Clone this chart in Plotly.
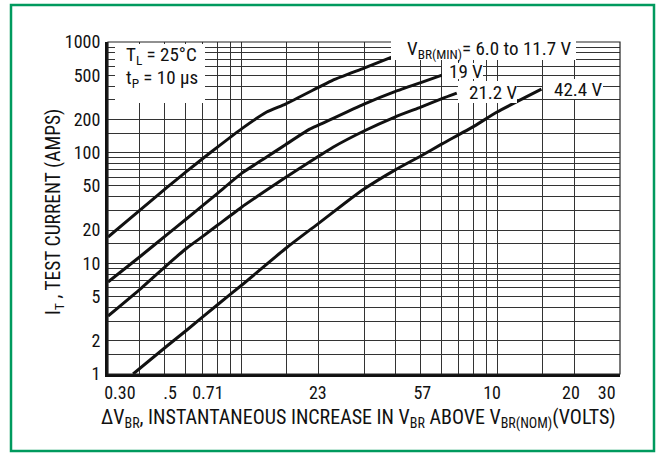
import numpy as np
import plotly.graph_objects as go

# ---- data ----
v_a = [0.3, 0.4, 0.51, 0.61, 0.71, 0.81, 1.0, 1.25, 1.48, 2.0, 2.27, 3.0, 3.85]
i_a = [17.3, 30.3, 48.5, 68, 90, 114, 165, 233, 275, 391, 453, 581, 730]

v_b = [0.3, 0.404, 0.51, 0.61, 0.71, 0.81, 1.0, 1.25, 1.48, 1.84, 2.0, 3.0, 3.96, 5.0, 6.05]
i_b = [6.78, 11.7, 18.2, 25.4, 33.9, 43.6, 65.3, 91.3, 118, 163, 178, 275, 356, 430, 502]

v_c = [0.3, 0.404, 0.51, 0.61, 0.71, 0.81, 1.0, 1.25, 1.48, 2.0, 2.27, 3.0, 3.96, 5.0, 6.05, 6.91]
i_c = [3.34, 5.95, 9.65, 13.75, 17.8, 22.4, 32.3, 45.9, 59.6, 93.2, 112, 157, 210, 258, 308, 345]

v_d = [0.376, 0.51, 0.61, 0.81, 1.0, 1.49, 2.0, 2.53, 3.0, 3.96, 5.0, 6.05, 7.96, 9.93, 14.8]
i_d = [1.0, 1.79, 2.5, 4.29, 6.37, 13.75, 23.1, 35.1, 46.9, 69.6, 93.2, 120, 170, 233, 375]

series_labels = ["V<sub>BR(MIN)</sub>= 6.0 to 11.7 V", "19 V", "21.2 V", "42.4 V"]

x_tick_vals = [0.334, 0.524, 0.737, 1.98, 5.07, 9.49, 19.3, 26.6]
x_tick_text = ["0.30", ".5", "0.71", "23", "57", "10", "20", "30"]
y_tick_vals = [1, 2, 5, 10, 20, 50, 100, 200, 500, 1000]
y_tick_text = ["1", "2", "5", "10", "20", "50", "100", "200", "500", "1000"]

x_grid = [0.4, 0.5, 0.6, 0.7, 0.8, 0.9, 1, 1.5, 2, 3, 4, 5, 6, 7, 8, 9, 10, 15, 20]
y_grid = [1.5, 2, 3, 4, 5, 6, 7, 8, 9, 10, 15, 20, 30, 40, 50, 60, 70, 80, 90,
          100, 150, 200, 300, 400, 500, 600, 700, 800, 900]

x_title = "ΔV<sub>BR</sub>, INSTANTANEOUS INCREASE IN V<sub>BR</sub> ABOVE V<sub>BR(NOM)</sub>(VOLTS)"
y_title = "I<sub>T</sub> , TEST CURRENT (AMPS)"
cond_lines = ["T<sub>L</sub> = 25°C", "t<sub>P</sub> = 10 µs"]

FONT = "Liberation Sans Narrow, Arial Narrow, Roboto Condensed, Roboto, sans-serif"

# ---- geometry helpers (pixel -> paper) ----
L, R, T, B = 108, 42, 42, 80
W, H = 662, 454
PW, PH = W - L - R, H - T - B


def px(x):
    return (x - L) / PW


def py(y):
    return (H - B - y) / PH


fig = go.Figure()
for v, i in [(v_a, i_a), (v_b, i_b), (v_c, i_c), (v_d, i_d)]:
    fig.add_trace(go.Scatter(x=v, y=i, mode="lines",
                             line=dict(color="#111", width=3, shape="spline", smoothing=0.45),
                             hoverinfo="skip", showlegend=False))

shapes = []
# green outer border
shapes.append(dict(type="rect", xref="paper", yref="paper",
                   x0=px(11), x1=px(654), y0=py(451), y1=py(5),
                   line=dict(color="#009a5e", width=2.5), layer="above"))
# plot frame (thin top/right)
shapes.append(dict(type="rect", xref="paper", yref="paper", x0=0, x1=1, y0=0, y1=1,
                   line=dict(color="#222", width=1.2), layer="above"))
# white label boxes
boxes = [(115, 205, 44, 103), (391, 576, 37, 60), (442, 483, 63, 79),
         (458, 517, 81, 103), (543, 603, 79, 99)]
for x0, x1, y0, y1 in boxes:
    shapes.append(dict(type="rect", xref="paper", yref="paper",
                       x0=px(x0), x1=px(x1), y0=py(y1), y1=py(y0),
                       fillcolor="white", line=dict(width=0), layer="above"))

annotations = []
label_pos = [(489, 49), (466, 71), (493, 92), (578, 89)]
for txt, (x, y) in zip(series_labels, label_pos):
    annotations.append(dict(text=txt, x=px(x), y=py(y), xref="paper", yref="paper",
                            showarrow=False, xanchor="center", yanchor="middle",
                            font=dict(family=FONT, size=19, color="#111")))
for txt, y in zip(cond_lines, [56, 78]):
    annotations.append(dict(text=txt, x=px(124), y=py(y), xref="paper", yref="paper",
                            showarrow=False, xanchor="left", yanchor="middle",
                            font=dict(family=FONT, size=19, color="#111")))
annotations.append(dict(text=x_title, x=px(358), y=py(419), xref="paper", yref="paper",
                        showarrow=False, xanchor="center", yanchor="middle",
                        font=dict(family=FONT, size=20, color="#111")))
annotations.append(dict(text=y_title, x=px(55), y=py(212), xref="paper", yref="paper",
                        showarrow=False, xanchor="center", yanchor="middle", textangle=-90,
                        font=dict(family=FONT, size=19.5, color="#111")))

fig.update_layout(
    width=W, height=H,
    margin=dict(l=L, r=R, t=T, b=B),
    paper_bgcolor="white", plot_bgcolor="white",
    shapes=shapes, annotations=annotations,
    xaxis=dict(type="log", range=[np.log10(0.3), np.log10(30)],
               tickmode="array", tickvals=x_tick_vals, ticktext=x_tick_text,
               showgrid=False, ticks="", zeroline=False,
               showline=True, linecolor="#111", linewidth=3,
               ticklabelstandoff=0,
               tickfont=dict(family=FONT, size=18, color="#111"),
               minor=dict(tickmode="array", tickvals=x_grid, showgrid=True,
                          gridcolor="#333", gridwidth=1, ticks="")),
    yaxis=dict(type="log", range=[0, 3],
               tickmode="array", tickvals=y_tick_vals, ticktext=y_tick_text,
               showgrid=False, ticks="", zeroline=False,
               showline=True, linecolor="#111", linewidth=3,
               ticklabelstandoff=1,
               tickfont=dict(family=FONT, size=18, color="#111"),
               minor=dict(tickmode="array", tickvals=y_grid, showgrid=True,
                          gridcolor="#333", gridwidth=1, ticks="")),
)

fig.write_html("out.html", config={"displayModeBar": False},
               post_script="document.body.style.margin='0';")
